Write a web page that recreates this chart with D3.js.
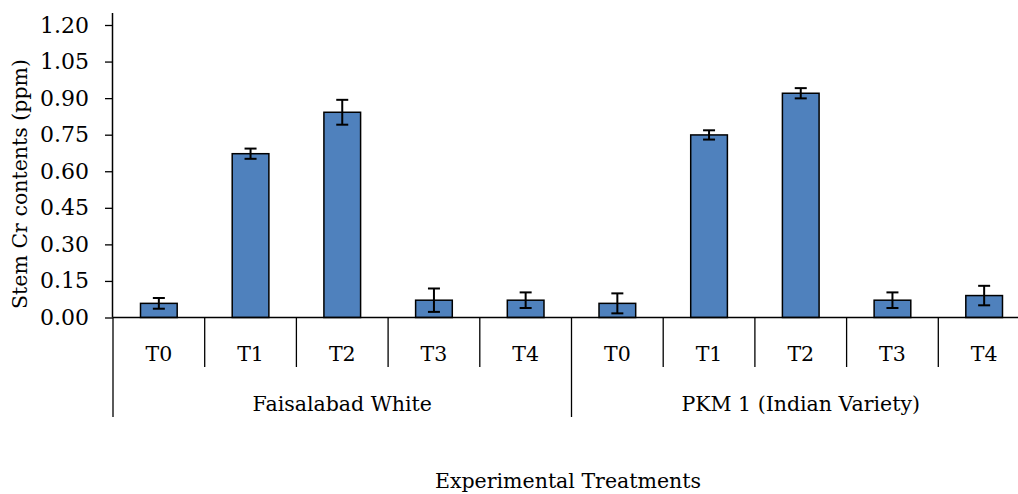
<!DOCTYPE html>
<html>
<head>
<meta charset="utf-8">
<script src="https://cdn.jsdelivr.net/npm/d3@7"></script>
<style>
  body { margin: 0; background: #fff; }
  text { font-family: "DejaVu Serif", serif; fill: #000; }
</style>
</head>
<body>
<svg class="chart"></svg>
<script>
const size = {w: 1018, h: 494};

// chart values
const groups = ['Faisalabad White', 'PKM 1 (Indian Variety)'];
const treatments = ['T0', 'T1', 'T2', 'T3', 'T4'];
const fwMeans = [0.058, 0.672, 0.842, 0.071, 0.071];
const fwErrors = [0.022, 0.021, 0.051, 0.048, 0.032];
const pkmMeans = [0.058, 0.749, 0.920, 0.071, 0.090];
const pkmErrors = [0.041, 0.019, 0.021, 0.032, 0.040];
const yTicks = [0, 0.15, 0.30, 0.45, 0.60, 0.75, 0.90, 1.05, 1.20];

const plot = {left: 113, right: 1030, top: 25, bottom: 317.5};
const fontSize = '20.5px';

const svg = d3.select('svg.chart')
    .attr('width', size.w)
    .attr('height', size.h);

// flatten groups into one row of bars
let rows = [];
groups.forEach(function(g, gi) {
    let means = gi === 0 ? fwMeans : pkmMeans;
    let errs = gi === 0 ? fwErrors : pkmErrors;
    treatments.forEach(function(t, ti) {
        rows.push({group: g, gi: gi, t: t, v: means[ti], e: errs[ti], i: gi * treatments.length + ti});
    });
});

const x = d3.scaleBand()
    .domain(rows.map(d => d.i))
    .range([plot.left, plot.right])
    .padding(0);

const y = d3.scaleLinear()
    .domain([0, 1.20])
    .range([plot.bottom, plot.top]);

const barW = x.bandwidth() * 0.4;

// y axis
const yAxis = svg.append('g')
    .attr('transform', `translate(${plot.left},0)`)
    .call(d3.axisLeft(y).tickValues(yTicks).tickFormat(d3.format('.2f')).tickSize(8).tickPadding(16));
yAxis.select('.domain').attr('d', `M-0.5,13V${plot.bottom}`).attr('stroke', '#000').attr('stroke-width', 1.5);
yAxis.selectAll('.tick line').attr('stroke', '#000').attr('stroke-width', 1.3);
yAxis.selectAll('.tick text')
    .style('font-family', '"DejaVu Serif", serif')
    .style('font-size', '22px');

// bars
svg.append('g').selectAll('rect')
    .data(rows)
    .join('rect')
    .attr('x', d => x(d.i) + (x.bandwidth() - barW) / 2)
    .attr('y', d => y(d.v))
    .attr('width', barW)
    .attr('height', d => y(0) - y(d.v))
    .attr('fill', '#4F81BD')
    .attr('stroke', '#000')
    .attr('stroke-width', 1.5);

// error bars
const errG = svg.append('g').attr('stroke', '#000').attr('stroke-width', 2);
const cx = d => x(d.i) + x.bandwidth() / 2;
errG.selectAll('line.stem')
    .data(rows)
    .join('line')
    .attr('class', 'stem')
    .attr('x1', cx).attr('x2', cx)
    .attr('y1', d => y(d.v + d.e))
    .attr('y2', d => y(d.v - d.e));
errG.selectAll('line.capTop')
    .data(rows)
    .join('line')
    .attr('class', 'capTop')
    .attr('x1', d => cx(d) - 6).attr('x2', d => cx(d) + 6)
    .attr('y1', d => y(d.v + d.e)).attr('y2', d => y(d.v + d.e));
errG.selectAll('line.capBot')
    .data(rows)
    .join('line')
    .attr('class', 'capBot')
    .attr('x1', d => cx(d) - 6).attr('x2', d => cx(d) + 6)
    .attr('y1', d => y(d.v - d.e)).attr('y2', d => y(d.v - d.e));

// x axis baseline and category separators
const axG = svg.append('g').attr('stroke', '#000').attr('stroke-width', 1.3);
axG.append('line')
    .attr('x1', plot.left).attr('x2', plot.right)
    .attr('y1', y(0)).attr('y2', y(0))
    .attr('stroke-width', 1.5);

let bounds = d3.range(rows.length + 1);
axG.selectAll('line.sep')
    .data(bounds)
    .join('line')
    .attr('class', 'sep')
    .attr('x1', d => plot.left + d * x.step())
    .attr('x2', d => plot.left + d * x.step())
    .attr('y1', y(0))
    .attr('y2', d => d % treatments.length === 0 ? 417 : 367);

// treatment labels
svg.append('g').selectAll('text')
    .data(rows)
    .join('text')
    .attr('x', cx)
    .attr('y', 361)
    .attr('text-anchor', 'middle')
    .style('font-size', fontSize)
    .text(d => d.t);

// group labels
svg.append('g').selectAll('text')
    .data(groups)
    .join('text')
    .attr('x', (d, i) => plot.left + (i + 0.5) * treatments.length * x.step())
    .attr('y', 411)
    .attr('text-anchor', 'middle')
    .style('font-size', fontSize)
    .text(d => d);

// axis titles
svg.append('text')
    .attr('x', 568)
    .attr('y', 488)
    .attr('text-anchor', 'middle')
    .style('font-size', fontSize)
    .text('Experimental Treatments');

svg.append('text')
    .attr('transform', 'translate(27,184) rotate(-90)')
    .attr('text-anchor', 'middle')
    .style('font-size', fontSize)
    .text('Stem Cr contents (ppm)');
</script>
</body>
</html>
